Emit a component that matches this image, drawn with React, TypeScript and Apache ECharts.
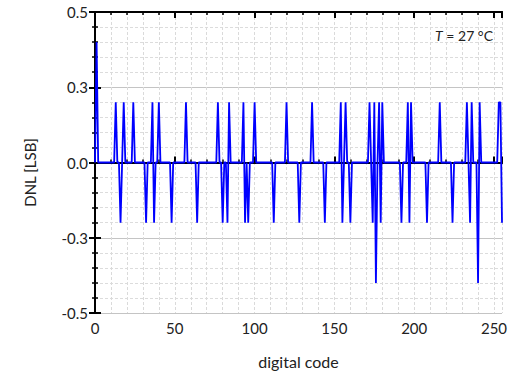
import React, { useEffect, useRef } from 'react';
import * as echarts from 'echarts';

// DNL per digital code 0..255 (16 codes per row)
const dnl: number[] = [
  0, 0.4, 0, 0, 0, 0, 0, 0, 0, 0, 0, 0, 0, 0.2, 0, 0,
  -0.2, 0, 0.2, 0, 0, 0, 0, 0, 0.2, 0, 0, 0, 0, 0, 0, 0,
  -0.2, 0, 0, 0, 0.2, -0.2, 0, 0, 0.2, 0, 0, 0, 0, 0, 0, 0,
  -0.2, 0, 0, 0, 0, 0, 0, 0, 0, 0.2, 0, 0, 0, 0, 0, 0,
  -0.2, 0, 0, 0, 0, 0, 0, 0, 0, 0, 0, 0, 0, 0.2, 0, 0,
  -0.2, 0, 0, -0.2, 0.2, 0, 0, 0, 0, 0, 0, 0, 0, 0.2, -0.2, 0,
  -0.2, 0, 0, 0, 0.2, 0, 0, 0, 0, 0, 0, 0, 0, 0, 0, 0,
  -0.2, 0, 0, 0, 0, 0, 0, 0, 0.2, 0, 0, 0, 0, 0, 0, 0,
  -0.2, 0, 0, 0, 0, 0, 0, 0, 0.2, 0, 0, 0, 0, 0, 0, 0,
  -0.2, 0, 0, 0, 0, 0, 0, 0, 0, 0, 0.2, -0.2, 0, 0.2, 0, 0,
  -0.2, 0, 0, 0, 0, 0, 0, 0, 0, 0, 0, 0, 0.2, 0, -0.2, 0.2,
  -0.4, 0, 0.2, -0.2, 0.2, 0, 0, 0, 0, 0, 0, 0, 0, 0, 0, 0,
  -0.2, 0, 0, 0, 0.2, -0.2, 0.2, 0, 0, 0, 0, 0, 0, 0, 0, 0,
  -0.2, 0, 0, 0, 0, 0, 0, 0, 0.2, 0, 0, 0, 0, 0, 0, 0,
  -0.2, 0, 0, 0, 0, 0, 0, 0, 0, 0.2, 0, -0.2, 0.2, 0, 0, 0,
  -0.4, 0.2, 0, 0, 0, 0, 0, 0, 0, 0, 0, 0, 0, 0.2, 0.2, -0.2,
];

const xTickValues = [0, 50, 100, 150, 200, 250];
const yTickValues = [-0.5, -0.25, 0, 0.25, 0.5];
const yTickLabels = ['-0.5', '-0.3', '0.0', '0.3', '0.5'];

const FONT = 'Lato, "Open Sans", sans-serif';
const TEXT = '#222';

export default function App() {
  const ref = useRef<HTMLDivElement>(null);
  useEffect(() => {
    const chart = echarts.init(ref.current!, null, { renderer: 'svg' });
    const data = dnl.map((v, i) => [i, v]);
    const axLine = { show: true, lineStyle: { color: '#000', width: 2 } };
    const xBase = { type: 'value', min: 0, max: 255, axisLine: axLine };
    const yBase = { type: 'value', min: -0.5, max: 0.5, interval: 0.25, axisLine: axLine };
    chart.setOption({
      animation: false,
      grid: { left: 95, right: 11, top: 12, bottom: 66, containLabel: false },
      xAxis: [
        {
          ...xBase, position: 'bottom', interval: 10,
          axisTick: { show: true, inside: true, length: 3, lineStyle: { color: '#000', width: 1.5 } },
          axisLabel: { show: false },
          splitLine: { show: true, lineStyle: { color: '#dadada', type: [3, 2], width: 1 } },
          name: 'digital code', nameLocation: 'middle', nameGap: 40,
          nameTextStyle: { fontSize: 16, color: TEXT, fontFamily: FONT },
        },
        {
          ...xBase, position: 'bottom', interval: 50,
          axisTick: { show: true, inside: true, length: 6, lineStyle: { color: '#000', width: 2 } },
          axisLabel: {
            show: true, margin: 7, fontSize: 15, color: TEXT, fontFamily: FONT,
            formatter: (v: number) => (xTickValues.includes(v) ? String(v) : ''),
          },
          splitLine: { show: false },
        },
        {
          ...xBase, position: 'top', interval: 10,
          axisTick: { show: true, inside: true, length: 3, lineStyle: { color: '#000', width: 1.5 } },
          axisLabel: { show: false }, splitLine: { show: false },
        },
        {
          ...xBase, position: 'top', interval: 50,
          axisTick: { show: true, inside: true, length: 6, lineStyle: { color: '#000', width: 2 } },
          axisLabel: { show: false }, splitLine: { show: false },
        },
      ],
      yAxis: [
        {
          ...yBase, position: 'left',
          axisTick: { show: true, inside: true, length: 6, lineStyle: { color: '#000', width: 2 } },
          minorTick: { show: true, splitNumber: 5, length: 3, lineStyle: { color: '#000', width: 1.5 } },
          axisLabel: {
            show: true, margin: 7, fontSize: 15, color: TEXT, fontFamily: FONT,
            formatter: (v: number) => {
              const idx = yTickValues.findIndex((t) => Math.abs(t - v) < 1e-9);
              return idx >= 0 ? yTickLabels[idx] : '';
            },
          },
          splitLine: { show: true, lineStyle: { color: '#c4c4c4', width: 1 } },
          minorSplitLine: { show: true, lineStyle: { color: '#dcdcdc', type: [3, 2], width: 1 } },
          name: 'DNL [LSB]', nameLocation: 'middle', nameGap: 58,
          nameTextStyle: { fontSize: 15, color: TEXT, fontFamily: FONT, padding: [0, 20, 0, 0] },
        },
        {
          ...yBase, position: 'right',
          axisTick: { show: true, inside: true, length: 6, lineStyle: { color: '#000', width: 2 } },
          minorTick: { show: true, splitNumber: 5, length: 3, lineStyle: { color: '#000', width: 1.5 } },
          axisLabel: { show: false }, splitLine: { show: false },
        },
      ],
      graphic: [
        {
          type: 'text', x: 493, y: 35, z: 100,
          style: {
            text: '{i|T} = 27 °C', x: 0, y: 0, align: 'right', verticalAlign: 'middle',
            fontSize: 14, fontFamily: FONT, fill: TEXT,
            rich: { i: { fontStyle: 'italic', fontSize: 14, fontFamily: FONT, fill: TEXT } },
          },
        },
      ],
      series: [
        {
          type: 'line', xAxisIndex: 0, yAxisIndex: 0, data,
          showSymbol: false, symbol: 'none', z: 5,
          lineStyle: { color: '#0000ff', width: 1.8 },
        },
      ],
    });
    return () => chart.dispose();
  }, []);
  return (
    <div
      ref={ref}
      style={{ position: 'fixed', left: 0, top: 0, width: 513, height: 379, background: '#fff' }}
    />
  );
}
